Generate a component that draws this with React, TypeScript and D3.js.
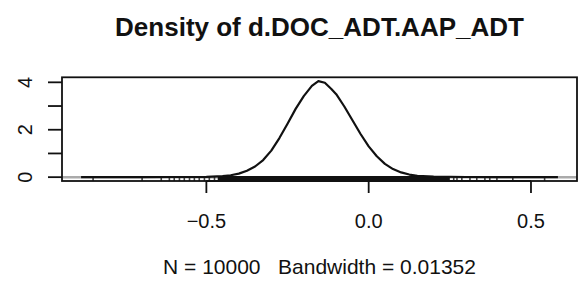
import React from "react";
import * as d3 from "d3";

const title = "Density of d.DOC_ADT.AAP_ADT";
const subtitle = "N = 10000   Bandwidth = 0.01352";

// density curve
const densX = [-0.886, -0.8, -0.7, -0.6, -0.5, -0.45, -0.425, -0.4, -0.375, -0.35, -0.325, -0.3, -0.275, -0.25, -0.225, -0.2, -0.175, -0.155, -0.135, -0.115, -0.1, -0.075, -0.05, -0.025, 0.0, 0.025, 0.05, 0.075, 0.1, 0.125, 0.15, 0.2, 0.3, 0.4, 0.5, 0.583];
const densY = [0, 0.002, 0.004, 0.007, 0.015, 0.04, 0.08, 0.15, 0.27, 0.45, 0.72, 1.12, 1.65, 2.25, 2.88, 3.42, 3.85, 4.05, 3.98, 3.72, 3.5, 2.98, 2.4, 1.82, 1.3, 0.88, 0.56, 0.34, 0.2, 0.11, 0.06, 0.02, 0.006, 0.003, 0.001, 0];

// individual rug points in the tails
const rugPoints = [-0.849, -0.698, -0.639, -0.614, -0.599, -0.583, -0.568, -0.552, -0.537, -0.522, -0.506, -0.491, -0.475, 0.262, 0.272, 0.287, 0.312, 0.333, 0.358, 0.373, 0.395, 0.444, 0.542];
// dense rug core (too many points to separate)
const rugCoreStart = [-0.465];
const rugCoreEnd = [0.25];

const xTicks = [-0.5, 0, 0.5];
const xTickLabels = ["\u22120.5", "0.0", "0.5"];
const yTicks = [0, 1, 2, 3, 4];
const yTickLabels = ["0", "", "2", "", "4"];

export default function App() {
  const W = 578, H = 282;
  const left = 62, right = 577, top = 77.3, bottom = 181;
  const xMin = d3.min(densX)!, xMax = d3.max(densX)!;
  const xr = xMax - xMin;
  const yMax = d3.max(densY)!;
  const x = d3.scaleLinear().domain([xMin - 0.04 * xr, xMax + 0.04 * xr]).range([left, right]);
  const y = d3.scaleLinear().domain([-0.04 * yMax, 1.04 * yMax]).range([bottom, top]);
  const line = d3.line<number>().x((_, i) => x(densX[i])).y((v) => y(v));
  const font = "Liberation Sans, Arial, Helvetica, sans-serif";
  const rugLen = 5;

  return (
    <svg width={W} height={H} style={{ position: "absolute", left: 0, top: 0, background: "#fff" }}>
      <text x={(left + right) / 2} y={36} textAnchor="middle" fontFamily={font} fontWeight="bold" fontSize={26} fill="#111">{title}</text>
      {/* zero line */}
      <line x1={left} x2={right} y1={y(0)} y2={y(0)} stroke="#aaa" strokeWidth={2.5} />
      {/* rug */}
      {rugCoreStart.map((s, i) => (
        <rect key={"c" + i} x={x(s)} width={x(rugCoreEnd[i]) - x(s)} y={bottom - rugLen} height={rugLen} fill="#111" />
      ))}
      {rugPoints.map((v, i) => (
        <line key={"r" + i} x1={x(v)} x2={x(v)} y1={bottom} y2={bottom - rugLen} stroke="#222" strokeWidth={1.6} opacity={0.85} />
      ))}
      {/* density */}
      <path d={line(densY)!} fill="none" stroke="#111" strokeWidth={2.2} strokeLinejoin="round" />
      {/* box */}
      <rect x={left} y={top} width={right - left} height={bottom - top} fill="none" stroke="#111" strokeWidth={1.8} />
      {/* x axis */}
      <line x1={x(xTicks[0])} x2={x(xTicks[xTicks.length - 1])} y1={bottom} y2={bottom} stroke="#111" strokeWidth={1.8} />
      {xTicks.map((t, i) => (
        <g key={"x" + i}>
          <line x1={x(t)} x2={x(t)} y1={bottom} y2={bottom + 12} stroke="#111" strokeWidth={1.8} />
          <text x={x(t)} y={228} textAnchor="middle" fontFamily={font} fontSize={20} fill="#111">{xTickLabels[i]}</text>
        </g>
      ))}
      {/* y axis */}
      {yTicks.map((t, i) => (
        <g key={"y" + i}>
          <line x1={left - 14} x2={left} y1={y(t)} y2={y(t)} stroke="#111" strokeWidth={1.8} />
          {yTickLabels[i] && (
            <text transform={`translate(32,${y(t)}) rotate(-90)`} textAnchor="middle" fontFamily={font} fontSize={20} fill="#111">{yTickLabels[i]}</text>
          )}
        </g>
      ))}
      <text x={(left + right) / 2} y={274} textAnchor="middle" fontFamily={font} fontSize={21} fill="#111" style={{ whiteSpace: "pre" }}>{subtitle}</text>
    </svg>
  );
}
